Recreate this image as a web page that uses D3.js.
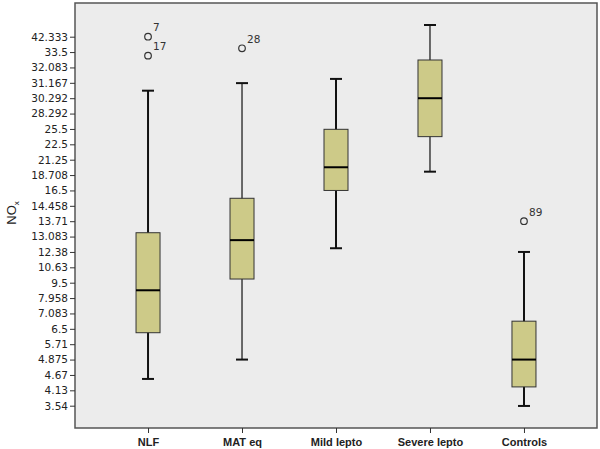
<html>
<head>
    <script src="https://d3js.org/d3.v7.min.js"></script>
    <style>
        body { margin: 0; background: #fff; }
        .y.axis text { font-family: "DejaVu Sans", sans-serif; font-size: 10.5px; fill: #222; }
        .x.axis text { font-family: "Liberation Sans", Arial, sans-serif; font-size: 11px; font-weight: bold; fill: #222; }
        .axis .domain { stroke: none; }
        .axis line { stroke: #333; }
    </style>
</head>
<body>
<svg height="449" width="600"></svg>
<script>
    // groups on the x axis
    const groups = ["NLF", "MAT eq", "Mild lepto", "Severe lepto", "Controls"];

    // box statistics per group
    const whiskerLow  = [4.53, 4.875, 12.55, 19.27, 3.53];
    const q1          = [6.30, 9.77, 16.5, 24.0, 4.25];
    const medians     = [8.74, 12.92, 20.0, 30.29, 4.875];
    const q3          = [13.24, 15.46, 25.43, 32.77, 6.79];
    const whiskerHigh = [30.72, 31.15, 31.40, 49.05, 12.38];

    // outliers: group, value, case label
    const outlierGroup = ["NLF", "NLF", "MAT eq", "Controls"];
    const outlierValue = [42.333, 33.17, 35.67, 13.71];
    const outlierCase  = ["7", "17", "28", "89"];

    // y tick labels, top to bottom (equally spaced on the axis)
    const yTicks = [42.333, 33.5, 32.083, 31.167, 30.292, 28.292, 25.5, 22.5, 21.25, 18.708,
        16.5, 14.458, 13.71, 13.083, 12.38, 10.63, 9.5, 7.958, 7.083, 6.5, 5.71, 4.875, 4.67, 4.13, 3.54];

    const svg = d3.select("svg");
    const plot = { left: 75, right: 597, top: 3, bottom: 428 };

    // equally spaced tick positions, then a piecewise linear scale through them
    const tickPos = d3.scalePoint().domain(yTicks).range([36.7, 405.7]);
    const yScale = d3.scaleLinear()
        .domain(yTicks)
        .range(yTicks.map(t => tickPos(t)));

    const xScale = d3.scalePoint().domain(groups)
        .range([plot.left, plot.right]).padding(0.777);

    svg.append("rect")
        .attr("x", plot.left).attr("y", plot.top)
        .attr("width", plot.right - plot.left).attr("height", plot.bottom - plot.top)
        .attr("fill", "#ececec").attr("stroke", "#555").attr("stroke-width", 1.5);

    svg.append("g")
        .attr("class", "y axis")
        .attr("transform", `translate(${plot.left},0)`)
        .call(d3.axisLeft(yScale).tickValues(yTicks).tickFormat(d => String(d)).tickSize(5).tickPadding(2));

    svg.append("g")
        .attr("class", "x axis")
        .attr("transform", `translate(0,${plot.bottom})`)
        .call(d3.axisBottom(xScale).tickSize(5).tickPadding(5));

    // y title NOx
    const title = svg.append("text")
        .attr("transform", "translate(16,213) rotate(-90)")
        .attr("text-anchor", "middle")
        .style("font-family", "Liberation Sans, Arial, sans-serif")
        .style("font-size", "13px")
        .attr("fill", "#222");
    title.append("tspan").text("NO");
    title.append("tspan").text("x").attr("dy", 3).style("font-size", "8px");

    const boxW = 24, capW = 12;
    const thin = ["MAT eq", "Severe lepto"];

    groups.forEach((g, i) => {
        const cx = xScale(g);
        const sw = thin.includes(g) ? 1.2 : 2;
        const box = svg.append("g");

        box.append("line")
            .attr("x1", cx).attr("x2", cx)
            .attr("y1", yScale(whiskerHigh[i])).attr("y2", yScale(whiskerLow[i]))
            .attr("stroke", "#111").attr("stroke-width", sw);

        [whiskerHigh[i], whiskerLow[i]].forEach(v => {
            box.append("line")
                .attr("x1", cx - capW / 2).attr("x2", cx + capW / 2)
                .attr("y1", yScale(v)).attr("y2", yScale(v))
                .attr("stroke", "#111").attr("stroke-width", 2);
        });

        box.append("rect")
            .attr("x", cx - boxW / 2).attr("width", boxW)
            .attr("y", yScale(q3[i])).attr("height", yScale(q1[i]) - yScale(q3[i]))
            .attr("fill", "#cdca88").attr("stroke", "#333").attr("stroke-width", 1);

        box.append("line")
            .attr("x1", cx - boxW / 2).attr("x2", cx + boxW / 2)
            .attr("y1", yScale(medians[i])).attr("y2", yScale(medians[i]))
            .attr("stroke", "#000").attr("stroke-width", 2);
    });

    outlierValue.forEach((v, i) => {
        const cx = xScale(outlierGroup[i]);
        const cy = yScale(v);
        svg.append("circle")
            .attr("cx", cx).attr("cy", cy).attr("r", 3.3)
            .attr("fill", "none").attr("stroke", "#333").attr("stroke-width", 1.2);
        svg.append("text")
            .attr("x", cx + 5).attr("y", cy - 5.5)
            .style("font-family", "DejaVu Sans, sans-serif")
            .style("font-size", "10.5px")
            .attr("fill", "#333")
            .text(outlierCase[i]);
    });
</script>
</body>
</html>
